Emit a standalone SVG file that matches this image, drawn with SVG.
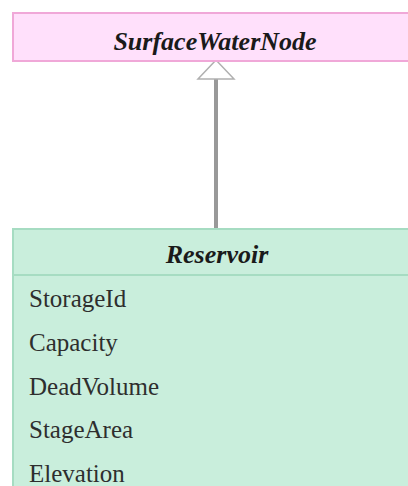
<svg xmlns="http://www.w3.org/2000/svg" width="408" height="486" viewBox="0 0 408 486">
<style>
.title{font-family:'Liberation Serif','Times New Roman',serif;font-weight:bold;font-style:italic;font-size:26px;fill:#1a1a1a;text-anchor:middle}
.attr{font-family:'Liberation Serif','Times New Roman',serif;font-size:25px;fill:#2e2e2e}
.pink{fill:#ffe0fb;stroke:#f0a8d8;stroke-width:2}
.green{fill:#c9eedc;stroke:#a6dcc2;stroke-width:2}
</style>
<rect width="408" height="486" fill="#ffffff"/>
<g id="connectors">
<line x1="216" y1="79" x2="216" y2="229" stroke="#999999" stroke-width="4"/>
<polygon points="216,60 198,79 234,79" fill="#ffffff" stroke="#b0b0b0" stroke-width="1.5"/>
</g>
<g id="SurfaceWaterNode">
<rect class="pink" x="13" y="13" width="410" height="48"/>
<text class="title" x="215" y="50">SurfaceWaterNode</text>
</g>
<g id="Reservoir">
<rect class="green" x="13" y="229" width="410" height="280"/>
<line x1="13" y1="275" x2="423" y2="275" stroke="#a6dcc2" stroke-width="2"/>
<text class="title" x="217" y="263">Reservoir</text>
<text class="attr" x="29" y="307">StorageId</text>
<text class="attr" x="29" y="351">Capacity</text>
<text class="attr" x="29" y="395">DeadVolume</text>
<text class="attr" x="29" y="438">StageArea</text>
<text class="attr" x="29" y="482">Elevation</text>
</g>
</svg>
